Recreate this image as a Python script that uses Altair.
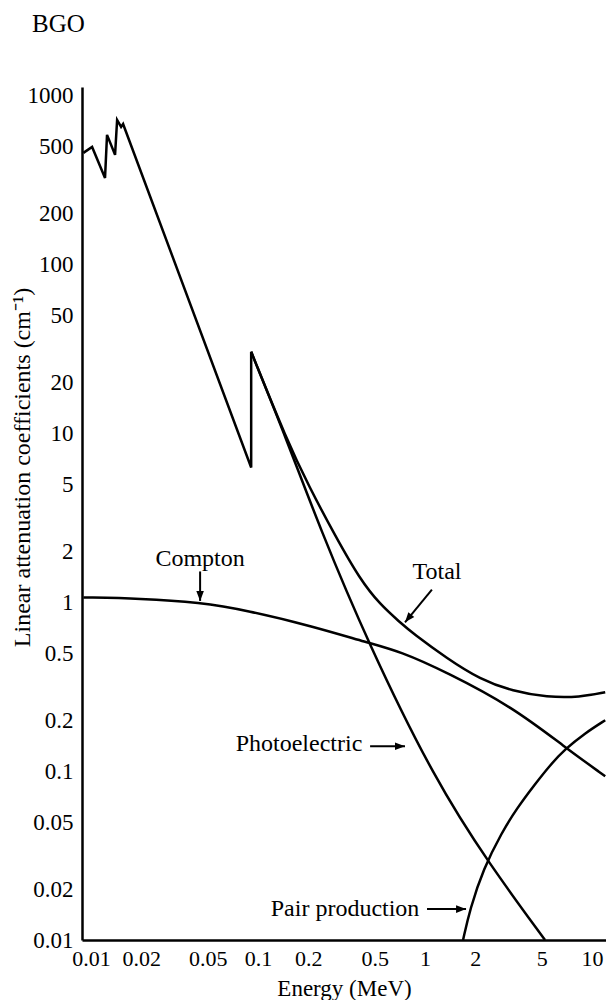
import altair as alt
import pandas as pd

# ---- data (energy in MeV, coefficient in cm^-1) ----
total_low_E = [0.009, 0.01015, 0.01213, 0.01247, 0.01393, 0.01433, 0.01514, 0.01556, 0.091, 0.091]
total_low_mu = [460, 499, 327, 588, 448, 721, 656, 682, 6.3, 30.5]

total_E = [0.091, 0.1492, 0.2020, 0.2891, 0.4081, 0.5377, 0.7087, 0.8474, 1.354, 2.135, 3.365,
           5.377, 8.476, 12.0]
total_mu = [30.5, 9.09, 4.857, 2.491, 1.368, 0.973, 0.7616, 0.6556, 0.4662, 0.3503, 0.2975,
            0.2741, 0.2741, 0.2935]

photo_E = [0.091, 0.1492, 0.2351, 0.4557, 1.148, 2.450, 5.232]
photo_mu = [30.5, 9.09, 2.741, 0.576, 0.0885, 0.0278, 0.01]

compton_E = [0.009, 0.01965, 0.04495, 0.0859, 0.2135, 0.4557, 0.7087, 1.354, 3.365, 6.89, 12.0]
compton_mu = [1.070, 1.056, 1.000, 0.897, 0.721, 0.576, 0.513, 0.385, 0.239, 0.1387, 0.0933]

pair_E = [1.69, 1.860, 2.234, 2.891, 3.556, 4.557, 5.605, 6.89, 9.08, 12.0]
pair_mu = [0.01, 0.01526, 0.0263, 0.0436, 0.0604, 0.0838, 0.1085, 0.135, 0.168, 0.2005]

label_text = ["Compton", "Total", "Photoelectric", "Pair production"]
label_E = [0.045, 1.18, 0.176, 0.332]
label_mu = [1.796, 1.507, 0.1445, 0.01524]

arrow_E1 = [0.045, 1.10, 0.469, 1.028]
arrow_mu1 = [1.525, 1.19, 0.1406, 0.01524]
arrow_E2 = [0.045, 0.759, 0.759, 1.761]
arrow_mu2 = [1.02, 0.762, 0.1406, 0.01524]
arrow_angle = [180, 219, 90, 90]

x_ticks = [0.01, 0.02, 0.05, 0.1, 0.2, 0.5, 1, 2, 5, 10]
y_ticks = [0.01, 0.02, 0.05, 0.1, 0.2, 0.5, 1, 2, 5, 10, 20, 50, 100, 200, 500, 1000]

FONT = "Liberation Serif"


def series(E, mu):
    return pd.DataFrame({"E": E, "mu": mu, "order": list(range(len(E)))})


xscale = alt.Scale(type="log", domain=[0.00883, 12.13], nice=False)
yscale = alt.Scale(type="log", domain=[0.01, 1130], nice=False)

xaxis = alt.Axis(values=x_ticks, format="~g", title="Energy (MeV)", ticks=False, grid=False,
                 labelFlush=False, labelOverlap=False, labelPadding=8, labelFontSize=22,
                 titleFontSize=23, titleY=55, titleBaseline="alphabetic")
yaxis = alt.Axis(values=y_ticks, format="~g", title="Linear attenuation coefficients (cm⁻¹)",
                 ticks=False, grid=False, labelFlush=False, labelOverlap=False, labelPadding=9,
                 labelFontSize=23, titleFontSize=24,
                 titleX=-60, titleY=380, titleAngle=270, titleAlign="center", titleBaseline="middle")

X = alt.X("E:Q", scale=xscale, axis=xaxis)
Y = alt.Y("mu:Q", scale=yscale, axis=yaxis)


def line(E, mu, interp):
    return alt.Chart(series(E, mu)).mark_line(
        color="black", strokeWidth=2.5, interpolate=interp, strokeJoin="miter"
    ).encode(x=X, y=Y, order="order:Q")


layers = [
    line(total_low_E, total_low_mu, "linear"),
    line(total_E, total_mu, "basis"),
    line(photo_E, photo_mu, "basis"),
    line(compton_E, compton_mu, "basis"),
    line(pair_E, pair_mu, "basis"),
]

labels_df = pd.DataFrame({"E": label_E, "mu": label_mu, "text": label_text})
labels = alt.Chart(labels_df).mark_text(
    font=FONT, fontSize=24, color="black", align="center", baseline="middle"
).encode(x=X, y=Y, text="text:N")

arrows_df = pd.DataFrame({"E": arrow_E1, "mu": arrow_mu1, "E2": arrow_E2, "mu2": arrow_mu2,
                          "angle": arrow_angle})
arrow_lines = alt.Chart(arrows_df).mark_rule(color="black", strokeWidth=2).encode(
    x=X, y=Y, x2="E2:Q", y2="mu2:Q")
arrow_heads = alt.Chart(arrows_df).mark_point(
    shape="M0,0L0.38,1L-0.38,1Z", filled=True, color="black", opacity=1, size=400, strokeWidth=0
).encode(
    x=alt.X("E2:Q", scale=xscale, axis=xaxis),
    y=alt.Y("mu2:Q", scale=yscale, axis=yaxis),
    angle=alt.Angle("angle:Q", scale=None),
)

bgo = alt.Chart(pd.DataFrame({"t": ["BGO"]})).mark_text(
    font=FONT, fontSize=25, color="black", align="left", baseline="middle"
).encode(x=alt.value(-50), y=alt.value(-63), text="t:N")

chart = alt.layer(*layers, arrow_lines, arrow_heads, labels, bgo).properties(
    width=524,
    height=853,
    autosize=alt.AutoSizeParams(type="none"),
    padding={"left": 74, "top": 79, "right": 0, "bottom": 60},
    background="white",
).configure_axis(
    labelFont=FONT, titleFont=FONT,
    labelColor="black", titleColor="black", domainColor="black", domainWidth=2.5,
    titleFontWeight="normal", labelFontWeight="normal",
).configure_view(stroke=None)

chart.save("out.html", embed_options={"renderer": "svg", "actions": False})
